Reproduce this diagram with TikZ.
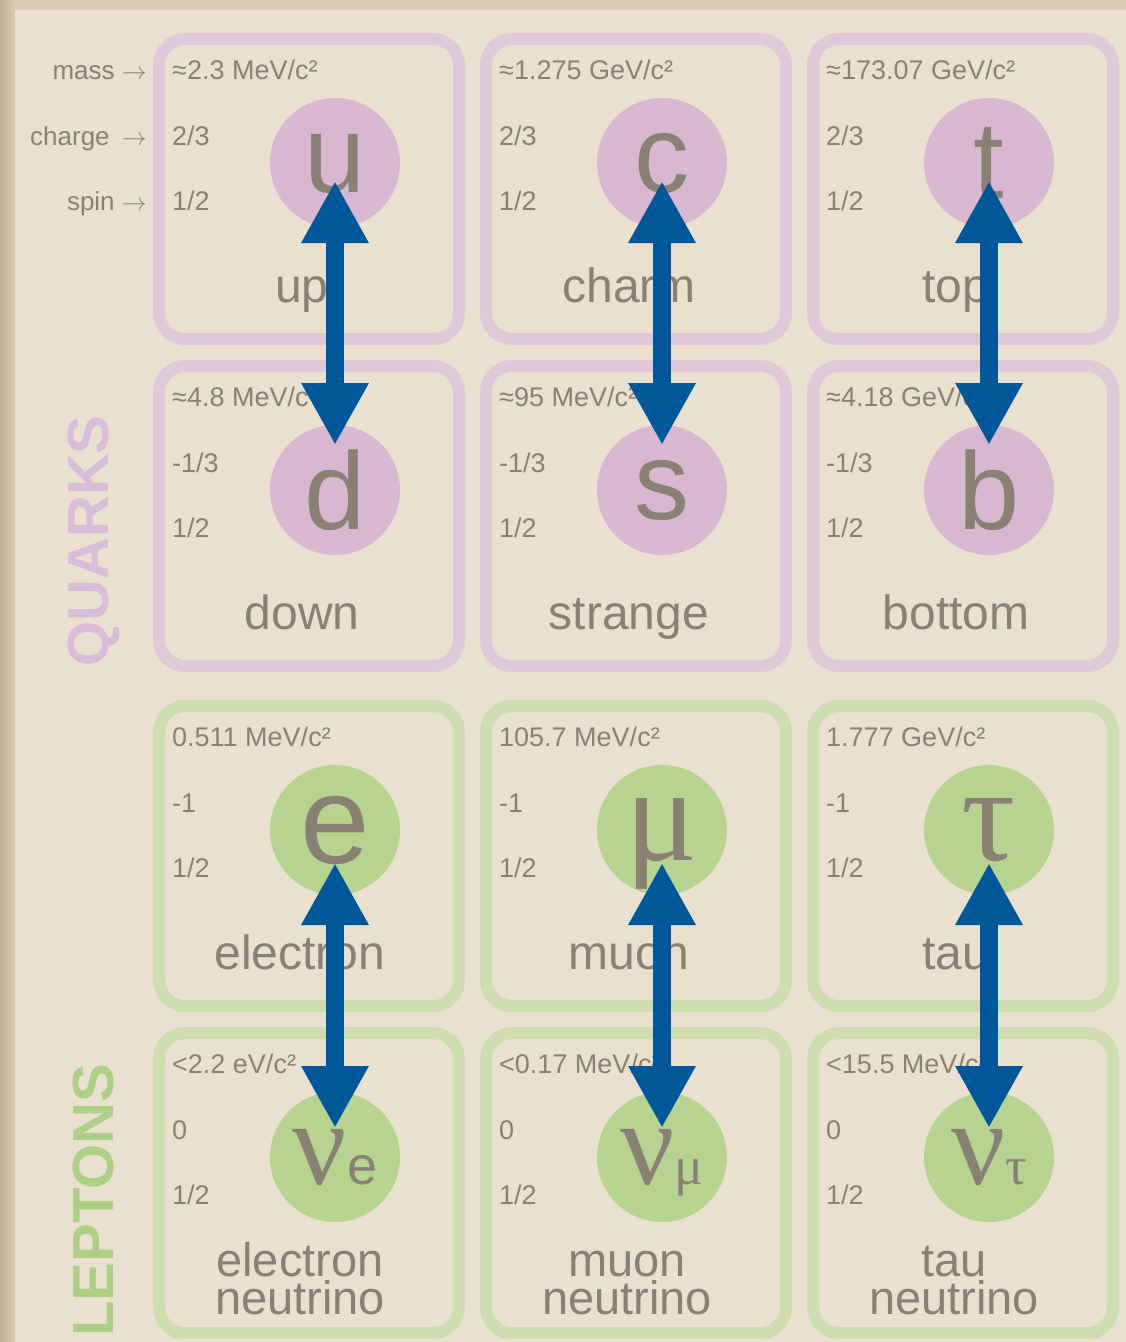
\documentclass[tikz,border=0pt]{standalone}
\usepackage{fontspec}
\setmainfont{Liberation Sans}
\newfontfamily\serifgreek{Liberation Serif}
\usetikzlibrary{arrows.meta}

\definecolor{paper}{HTML}{EAE0CF}
\definecolor{frame}{HTML}{D8C9AF}
\definecolor{frameDark}{HTML}{C4B396}
\definecolor{ink}{HTML}{8A8175}
\definecolor{quarkEdge}{HTML}{DFC8D8}
\definecolor{quarkFill}{HTML}{D9B7D1}
\definecolor{leptonEdge}{HTML}{CDDDAE}
\definecolor{leptonFill}{HTML}{B6D38F}
\definecolor{quarkTitle}{HTML}{D9BCD9}
\definecolor{leptonTitle}{HTML}{ADD084}
\definecolor{flow}{HTML}{00579A}

% glyphs drawn inside the coloured discs
\newcommand\latinsym[1]{{\fontsize{110}{110}\selectfont #1}}
\newcommand\greeksym[1]{{\serifgreek\fontsize{135}{135}\selectfont #1}}
\newcommand\nusym[1]{{\serifgreek\fontsize{120}{120}\selectfont ν}{\fontsize{54}{54}\selectfont #1}}

% one cell of the table: id, left, top, family (q/l), mass, charge, spin, symbol
\newcommand\fermioncell[8]{%
  \node[#4cell] (#1box) at (#2+150,#3+150) {};
  \node[#4ball] (#1) at (#2+176,#3+124) {#8};
  \node[prop] (#1mass) at (#2+13,#3+40) {#5};
  \node[prop] (#1charge) at (#2+13,#3+106) {#6};
  \node[prop] (#1spin) at (#2+13,#3+171) {#7};
}

\begin{document}
\begin{tikzpicture}[x=1pt,y=-1pt,
  cell/.style={draw, line width=12pt, rounded corners=26pt,
    minimum width=300pt, minimum height=300pt, inner sep=0pt},
  qcell/.style={cell, draw=quarkEdge},
  lcell/.style={cell, draw=leptonEdge},
  ball/.style={circle, minimum size=130pt, inner sep=0pt, text=ink, text depth=0pt},
  qball/.style={ball, fill=quarkFill},
  lball/.style={ball, fill=leptonFill},
  prop/.style={anchor=base west, inner sep=0pt, text=ink,
    font=\fontsize{27}{27}\selectfont},
  legend/.style={anchor=base east, inner sep=0pt, text=ink,
    font=\fontsize{26}{26}\selectfont},
  pname/.style={anchor=base, inner sep=0pt, text=ink,
    font=\fontsize{48}{48}\selectfont},
  nuname/.style={anchor=south, inner sep=0pt, align=center, text=ink,
    font=\fontsize{47}{38}\selectfont},
  family/.style={rotate=90, inner sep=0pt,
    font=\bfseries\fontsize{58}{58}\selectfont},
  swap/.style={draw=flow, line width=18pt,
    {Triangle[length=62pt,width=63pt]}-{Triangle[length=62pt,width=63pt]}}
]
\useasboundingbox (0,0) rectangle (1126,1342);

% paper and its darker frame
\fill[frame] (0,0) rectangle (1126,1342);
\shade[left color=frameDark, right color=frame] (0,0) rectangle (15,1342);
\fill[paper] (15,10) rectangle (1126,1342);

% row legend
\node[legend] (lmass) at (147,79) {mass \(\rightarrow\)};
\node[legend] (lcharge) at (147,145) {charge\hspace{5pt} \(\rightarrow\)};
\node[legend] (lspin) at (147,210) {spin \(\rightarrow\)};

% quarks
\fermioncell{u}{159}{39}{q}{≈2.3 MeV/c²}{2/3}{1/2}{\latinsym{u}}
\fermioncell{c}{486}{39}{q}{≈1.275 GeV/c²}{2/3}{1/2}{\latinsym{c}}
\fermioncell{t}{813}{39}{q}{≈173.07 GeV/c²}{2/3}{1/2}{\latinsym{t}}
\fermioncell{d}{159}{366}{q}{≈4.8 MeV/c²}{-1/3}{1/2}{\latinsym{d}}
\fermioncell{s}{486}{366}{q}{≈95 MeV/c²}{-1/3}{1/2}{\latinsym{s}}
\fermioncell{b}{813}{366}{q}{≈4.18 GeV/c²}{-1/3}{1/2}{\latinsym{b}}

\node[pname] (uname) at (302,302) {up};
\node[pname] (cname) at (629,302) {charm};
\node[pname] (tname) at (956,302) {top};
\node[pname] (dname) at (302,629) {down};
\node[pname] (sname) at (629,629) {strange};
\node[pname] (bname) at (956,629) {bottom};

% leptons
\fermioncell{e}{159}{706}{l}{0.511 MeV/c²}{-1}{1/2}{{\fontsize{125}{125}\selectfont e}}
\fermioncell{mu}{486}{706}{l}{105.7 MeV/c²}{-1}{1/2}{\greeksym{μ}}
\fermioncell{tau}{813}{706}{l}{1.777 GeV/c²}{-1}{1/2}{\greeksym{τ}}
\fermioncell{ne}{159}{1033}{l}{<2.2 eV/c²}{0}{1/2}{\nusym{e}}
\fermioncell{nmu}{486}{1033}{l}{<0.17 MeV/c²}{0}{1/2}{\nusym{\serifgreek μ}}
\fermioncell{ntau}{813}{1033}{l}{<15.5 MeV/c²}{0}{1/2}{\nusym{\serifgreek τ}}

\node[pname] (ename) at (300,969) {electron};
\node[pname] (muname) at (629,969) {muon};
\node[pname] (tauname) at (956,969) {tau};
\node[nuname] (nename) at (300,1315) {electron\\neutrino};
\node[nuname] (nmuname) at (627,1315) {muon\\neutrino};
\node[nuname] (ntauname) at (954,1315) {tau\\neutrino};

% family titles
\node[family, text=quarkTitle] (quarks) at (94,541) {QUARKS};
\node[family, text=leptonTitle] (leptons) at (94,1200) {LEPTONS};

% weak doublet transitions
\draw[swap, shorten <=18pt, shorten >=45pt] (u.center) -- (d.center);
\draw[swap, shorten <=18pt, shorten >=45pt] (c.center) -- (s.center);
\draw[swap, shorten <=18pt, shorten >=45pt] (t.center) -- (b.center);
\draw[swap, shorten <=33pt, shorten >=29pt] (e.center) -- (ne.center);
\draw[swap, shorten <=33pt, shorten >=29pt] (mu.center) -- (nmu.center);
\draw[swap, shorten <=33pt, shorten >=29pt] (tau.center) -- (ntau.center);
\end{tikzpicture}
\end{document}
